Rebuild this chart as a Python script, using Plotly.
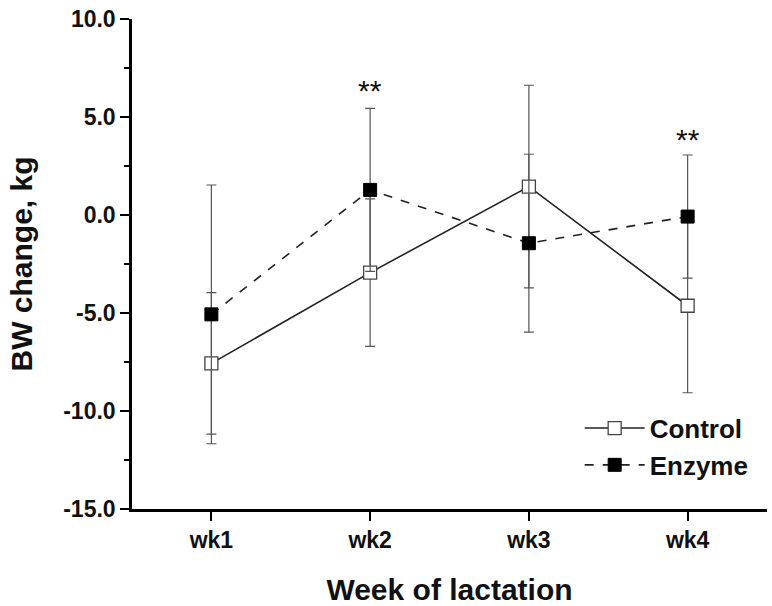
import plotly.graph_objects as go

weeks = ["wk1", "wk2", "wk3", "wk4"]
control = [-7.57, -2.94, 1.45, -4.63]
control_err = [3.61, 3.76, 5.17, 4.44]
enzyme = [-5.07, 1.28, -1.44, -0.08]
enzyme_err = [6.60, 4.16, 4.54, 3.14]
sig_labels = ["", "**", "", "**"]
sig_y = [None, 6.35, None, 3.85]
y_ticks = [-15, -10, -5, 0, 5, 10]

FONT = "Liberation Sans, Arial, sans-serif"
x_idx = list(range(len(weeks)))

fig = go.Figure()
fig.add_trace(go.Scatter(
    x=x_idx, y=control, name="<b>Control</b>", mode="lines+markers",
    line=dict(color="#222222", width=1.6),
    marker=dict(symbol="square", size=13, color="white",
                line=dict(color="#444444", width=1.3)),
    error_y=dict(type="data", array=control_err, color="#555555",
                 thickness=1.2, width=5),
))
fig.add_trace(go.Scatter(
    x=x_idx, y=enzyme, name="<b>Enzyme</b>", mode="lines+markers",
    line=dict(color="#222222", width=1.6, dash="dash"),
    marker=dict(symbol="square", size=13, color="black",
                line=dict(color="black", width=1)),
    error_y=dict(type="data", array=enzyme_err, color="#555555",
                 thickness=1.2, width=5),
))

for i, (lab, yy) in enumerate(zip(sig_labels, sig_y)):
    if lab:
        fig.add_annotation(x=x_idx[i], y=yy, text=lab, showarrow=False,
                           font=dict(family=FONT, size=30, color="#111"),
                           yanchor="middle")

fig.update_layout(
    width=772, height=606,
    margin=dict(l=132, r=5, t=19, b=97),
    paper_bgcolor="white", plot_bgcolor="white",
    font=dict(family=FONT, color="#111"),
    showlegend=True,
    legend=dict(x=0.705, y=0.213, xanchor="left", yanchor="top",
                bgcolor="rgba(0,0,0,0)",
                font=dict(family=FONT, size=26, color="#111"),
                itemwidth=60, tracegroupgap=2),
    xaxis=dict(
        range=[-0.5, 3.5], tickvals=x_idx,
        ticktext=["<b>%s</b>" % w for w in weeks],
        showline=True, linecolor="black", linewidth=2.5,
        ticks="outside", ticklen=9, tickwidth=2, tickcolor="black",
        showgrid=False, zeroline=False, automargin=False,
        tickfont=dict(family=FONT, size=23, color="#111"),
        title=dict(text="<b>Week of lactation</b>", standoff=27,
                   font=dict(family=FONT, size=30, color="#111")),
    ),
    yaxis=dict(
        range=[-15, 10], tickvals=y_ticks,
        ticktext=["<b>%.1f</b>" % v for v in y_ticks],
        showline=True, linecolor="black", linewidth=2.5,
        ticks="outside", ticklen=9, tickwidth=2, tickcolor="black",
        minor=dict(dtick=2.5, ticks="outside", ticklen=5, tickwidth=2,
                   tickcolor="black", showgrid=False),
        showgrid=False, zeroline=False, automargin=False,
        tickfont=dict(family=FONT, size=23, color="#111"),
        title=dict(text="<b>BW change, kg</b>", standoff=22,
                   font=dict(family=FONT, size=30, color="#111")),
    ),
)

fig.write_html("out.html", config={"displayModeBar": False},
               post_script="document.body.style.margin='0';")
